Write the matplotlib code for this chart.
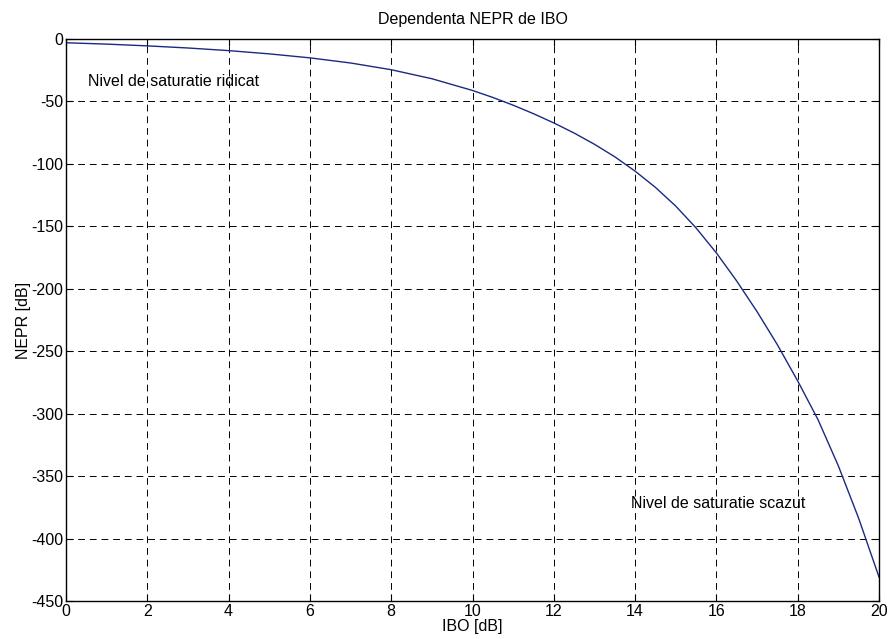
import matplotlib
matplotlib.use('Agg')
import matplotlib.pyplot as plt

# NEPR vs IBO
ibo = [0, 1, 2, 3, 4, 5, 6, 7, 8, 9, 10, 10.5, 11, 11.5, 12, 12.5, 13, 13.5,
       14, 14.5, 15, 15.5, 16, 16.5, 17, 17.5, 18, 18.5, 19, 19.5, 20]
nepr = [-3, -4.1, -5.5, -7.2, -9.3, -11.9, -15.1, -19.2, -24.6, -31.8, -41.2,
        -46.8, -53, -59.8, -67.2, -75.3, -84.3, -94.3, -105.8, -118.8, -133.8,
        -151.3, -171.3, -193.8, -218.3, -244.8, -273.8, -304.8, -341.8,
        -383.8, -430.8]

title = "Dependenta NEPR de IBO"
xlab = "IBO [dB]"
ylab = "NEPR [dB]"
note_high = "Nivel de saturatie ridicat"
note_low = "Nivel de saturatie scazut"

plt.rcParams['font.family'] = ['Liberation Sans', 'DejaVu Sans']
plt.rcParams['axes.unicode_minus'] = False
FS = 11.5

fig = plt.figure(figsize=(8.88, 6.39), dpi=100)
ax = fig.add_axes([66 / 888, 1 - 601 / 639, (879 - 66) / 888, (601 - 39) / 639])

ax.plot(ibo, nepr, color='#1a2a80', linewidth=1.0)

ax.set_xlim(0, 20)
ax.set_ylim(-450, 0)
ax.set_xticks(range(0, 21, 2))
ax.set_yticks(range(-450, 1, 50))

# MATLAB-like grid and box
ax.grid(True, color='black', linestyle=(0, (7, 5)), linewidth=0.7)
ax.tick_params(direction='in', top=True, right=True, length=5, width=0.8,
               labelsize=FS, pad=2)
for s in ax.spines.values():
    s.set_linewidth(1.0)

ax.text(0.55, -34, note_high, fontsize=FS, va='center', ha='left')
ax.text(13.9, -372, note_low, fontsize=FS, va='center', ha='left')

ax.set_title(title, fontsize=FS, pad=11)
ax.set_xlabel(xlab, fontsize=FS, labelpad=0)
ax.set_ylabel(ylab, fontsize=FS, labelpad=0)

plt.savefig('out.png', dpi=100)
plt.close()
